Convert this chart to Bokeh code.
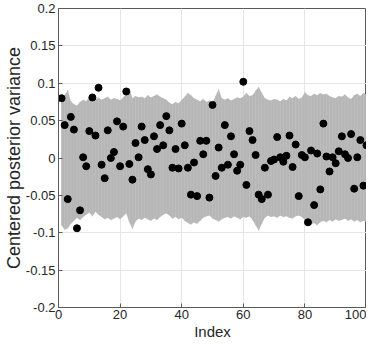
from bokeh.plotting import figure
from bokeh.models import FixedTicker, ColumnDataSource, Range1d
from bokeh.embed import file_html
from bokeh.resources import INLINE

index = list(range(1, 101))

values = [0.080, 0.044, -0.055, 0.055, 0.038, -0.094, -0.070, 0.001, -0.011, 0.036,
          0.081, 0.030, 0.094, -0.009, -0.027, 0.037, 0.000, 0.008, 0.049, -0.011,
          0.042, 0.089, -0.008, -0.029, 0.020, 0.001, 0.042, 0.024, -0.015, -0.022,
          0.029, 0.012, 0.044, 0.017, 0.056, 0.037, -0.013, 0.012, -0.014, 0.046,
          0.017, -0.013, -0.049, -0.006, -0.051, 0.023, 0.005, 0.023, -0.053, 0.071,
          -0.024, 0.014, -0.013, 0.044, -0.009, 0.029, 0.005, -0.017, -0.009, 0.102,
          -0.036, 0.036, 0.024, 0.004, -0.049, -0.055, -0.013, -0.049, -0.004, -0.002,
          0.028, 0.001, -0.005, 0.003, 0.030, -0.012, 0.018, -0.051, 0.004, 0.001,
          -0.086, 0.010, -0.063, 0.006, -0.042, 0.046, 0.002, -0.018, 0.001, -0.007,
          0.009, 0.029, 0.005, 0.000, 0.032, -0.041, 0.001, 0.024, -0.037, 0.017]

band_upper = [0.078, 0.084, 0.091, 0.076, 0.072, 0.070, 0.075, 0.078, 0.076, 0.082,
              0.083, 0.079, 0.081, 0.078, 0.080, 0.082, 0.078, 0.080, 0.079, 0.077,
              0.081, 0.086, 0.093, 0.080, 0.083, 0.081, 0.082, 0.080, 0.084, 0.081,
              0.083, 0.085, 0.082, 0.080, 0.078, 0.074, 0.072, 0.075, 0.073, 0.078,
              0.082, 0.087, 0.084, 0.080, 0.078, 0.076, 0.079, 0.075, 0.077, 0.074,
              0.083, 0.092, 0.080, 0.078, 0.080, 0.077, 0.079, 0.081, 0.080, 0.082,
              0.087, 0.083, 0.084, 0.090, 0.095, 0.087, 0.080, 0.078, 0.077, 0.079,
              0.078, 0.076, 0.079, 0.077, 0.082, 0.080, 0.083, 0.079, 0.081, 0.088,
              0.084, 0.083, 0.086, 0.084, 0.087, 0.085, 0.086, 0.083, 0.081, 0.080,
              0.083, 0.082, 0.085, 0.081, 0.079, 0.084, 0.086, 0.083, 0.087, 0.085]

band_lower = [-0.090, -0.096, -0.094, -0.088, -0.084, -0.080, -0.083, -0.079, -0.076, -0.073,
              -0.078, -0.072, -0.076, -0.079, -0.082, -0.080, -0.083, -0.081, -0.079, -0.082,
              -0.078, -0.074, -0.086, -0.095, -0.085, -0.081, -0.083, -0.080, -0.082, -0.084,
              -0.081, -0.083, -0.079, -0.076, -0.074, -0.077, -0.081, -0.079, -0.082, -0.080,
              -0.084, -0.087, -0.089, -0.086, -0.088, -0.084, -0.080, -0.078, -0.077, -0.081,
              -0.083, -0.085, -0.082, -0.080, -0.079, -0.081, -0.078, -0.080, -0.082, -0.079,
              -0.080, -0.078, -0.083, -0.090, -0.097, -0.088, -0.080, -0.077, -0.079, -0.078,
              -0.080, -0.077, -0.079, -0.078, -0.080, -0.081, -0.078, -0.077, -0.079, -0.083,
              -0.086, -0.089, -0.087, -0.090, -0.086, -0.084, -0.086, -0.083, -0.085, -0.082,
              -0.084, -0.083, -0.081, -0.084, -0.082, -0.085, -0.083, -0.086, -0.084, -0.086]

x_ticks = [0, 20, 40, 60, 80, 100]
y_ticks = [-0.2, -0.15, -0.1, -0.05, 0, 0.05, 0.1, 0.15, 0.2]
y_tick_labels = ["-0.2", "-0.15", "-0.1", "-0.05", "0", "0.05", "0.1", "0.15", "0.2"]

FONT = "Liberation Sans"
TXT = "#262626"
AX = "#5a5a5a"

p = figure(width=366, height=342, output_backend="svg", toolbar_location=None,
           x_range=Range1d(0, 100), y_range=Range1d(-0.2, 0.2),
           min_border_left=0, min_border_right=0, min_border_top=8, min_border_bottom=0)
p.background_fill_color = "white"
p.border_fill_color = "white"
p.outline_line_color = AX
p.outline_line_width = 1

src = ColumnDataSource(dict(x=index, y=values, up=band_upper, lo=band_lower))
p.varea(x="x", y1="lo", y2="up", source=src, fill_color="#b6b6b6")
p.segment(x0="x", y0="lo", x1="x", y1="up", source=src, line_color="#bebebe", line_width=1)
p.scatter(x="x", y="y", source=src, size=7, fill_color="black", line_color="black")

p.xaxis.ticker = FixedTicker(ticks=x_ticks)
p.yaxis.ticker = FixedTicker(ticks=y_ticks)
p.yaxis.major_label_overrides = {t: l for t, l in zip(y_ticks, y_tick_labels)}
p.xaxis.axis_label = "Index"
p.yaxis.axis_label = "Centered posterior variance"

for ax in [p.xaxis[0], p.yaxis[0]]:
    ax.axis_line_color = AX
    ax.major_tick_line_color = AX
    ax.major_tick_in = 4
    ax.major_tick_out = 0
    ax.minor_tick_line_color = None
    ax.major_label_text_font = FONT
    ax.major_label_text_font_size = "13px"
    ax.major_label_text_color = TXT
    ax.axis_label_text_font = FONT
    ax.axis_label_text_font_style = "normal"
    ax.axis_label_text_color = TXT
    ax.major_label_standoff = 3
    ax.axis_label_standoff = 0

p.xaxis.major_label_standoff = 2
p.xaxis.axis_label_standoff = 1
p.yaxis.major_label_standoff = 3
p.yaxis.axis_label_standoff = -1
p.xaxis.axis_label_text_font_size = "15px"
p.yaxis.axis_label_text_font_size = "18px"

p.xgrid.grid_line_color = "#e6e6e6"
p.ygrid.grid_line_color = "#e6e6e6"

open("out.html", "w").write(file_html(p, INLINE))
